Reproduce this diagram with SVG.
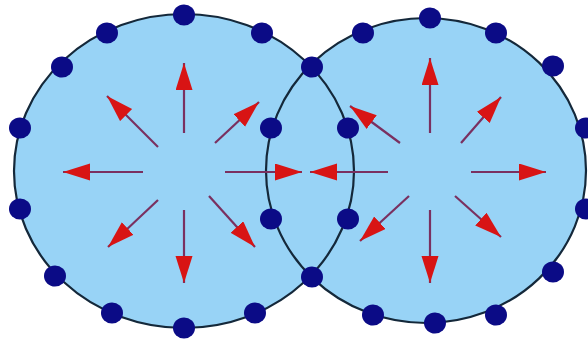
<svg xmlns="http://www.w3.org/2000/svg" width="588" height="341" viewBox="0 0 588 341">
<defs>
<style>
.fill{fill:#98d3f6;stroke:none}
.edge{fill:none;stroke:#14283a;stroke-width:2.2}
.dot{fill:#0b0b86}
.arr{stroke:#7a3060;stroke-width:2.2;fill:none;marker-end:url(#head)}
</style>
<marker id="head" markerUnits="userSpaceOnUse" markerWidth="30" markerHeight="20" refX="27" refY="8.5" orient="auto">
<path d="M0,0 L27,8.5 L0,17 Z" fill="#d81414"/>
</marker>
</defs>
<rect width="588" height="341" fill="#ffffff"/>
<g id="cells">
<ellipse class="fill" cx="184" cy="171" rx="170" ry="157"/>
<ellipse class="fill" cx="426" cy="170.5" rx="160" ry="152.5"/>
<ellipse class="edge" cx="184" cy="171" rx="170" ry="157"/>
<ellipse class="edge" cx="426" cy="170.5" rx="160" ry="152.5"/>
</g>
<g id="connectors">
<line class="arr" x1="184" y1="133" x2="184" y2="63"/>
<line class="arr" x1="184" y1="210" x2="184" y2="283"/>
<line class="arr" x1="143" y1="172" x2="63" y2="172"/>
<line class="arr" x1="225" y1="172" x2="302" y2="172"/>
<line class="arr" x1="158" y1="147" x2="107" y2="96"/>
<line class="arr" x1="215" y1="143" x2="259" y2="102"/>
<line class="arr" x1="158" y1="200" x2="108" y2="247"/>
<line class="arr" x1="209" y1="196" x2="255" y2="247"/>
<line class="arr" x1="430" y1="133" x2="430" y2="58"/>
<line class="arr" x1="430" y1="210" x2="430" y2="283"/>
<line class="arr" x1="388" y1="172" x2="310" y2="172"/>
<line class="arr" x1="471" y1="172" x2="546" y2="172"/>
<line class="arr" x1="400" y1="143" x2="350" y2="106"/>
<line class="arr" x1="461" y1="143" x2="501" y2="97"/>
<line class="arr" x1="409" y1="196" x2="360" y2="241"/>
<line class="arr" x1="455" y1="196" x2="501" y2="237"/>
</g>
<g id="dots">
<ellipse class="dot" cx="184" cy="15" rx="11" ry="10.5"/>
<ellipse class="dot" cx="107" cy="33" rx="11" ry="10.5"/>
<ellipse class="dot" cx="262" cy="33" rx="11" ry="10.5"/>
<ellipse class="dot" cx="62" cy="67" rx="11" ry="10.5"/>
<ellipse class="dot" cx="20" cy="128" rx="11" ry="10.5"/>
<ellipse class="dot" cx="20" cy="209" rx="11" ry="10.5"/>
<ellipse class="dot" cx="55" cy="276" rx="11" ry="10.5"/>
<ellipse class="dot" cx="112" cy="313" rx="11" ry="10.5"/>
<ellipse class="dot" cx="184" cy="328" rx="11" ry="10.5"/>
<ellipse class="dot" cx="255" cy="313" rx="11" ry="10.5"/>
<ellipse class="dot" cx="271" cy="128" rx="11" ry="10.5"/>
<ellipse class="dot" cx="271" cy="219" rx="11" ry="10.5"/>
<ellipse class="dot" cx="348" cy="128" rx="11" ry="10.5"/>
<ellipse class="dot" cx="348" cy="219" rx="11" ry="10.5"/>
<ellipse class="dot" cx="312" cy="67" rx="11" ry="10.5"/>
<ellipse class="dot" cx="312" cy="277" rx="11" ry="10.5"/>
<ellipse class="dot" cx="430" cy="18" rx="11" ry="10.5"/>
<ellipse class="dot" cx="363" cy="33" rx="11" ry="10.5"/>
<ellipse class="dot" cx="496" cy="33" rx="11" ry="10.5"/>
<ellipse class="dot" cx="553" cy="66" rx="11" ry="10.5"/>
<ellipse class="dot" cx="586" cy="128" rx="11" ry="10.5"/>
<ellipse class="dot" cx="586" cy="209" rx="11" ry="10.5"/>
<ellipse class="dot" cx="553" cy="272" rx="11" ry="10.5"/>
<ellipse class="dot" cx="496" cy="315" rx="11" ry="10.5"/>
<ellipse class="dot" cx="435" cy="323" rx="11" ry="10.5"/>
<ellipse class="dot" cx="373" cy="315" rx="11" ry="10.5"/>
</g>
</svg>
